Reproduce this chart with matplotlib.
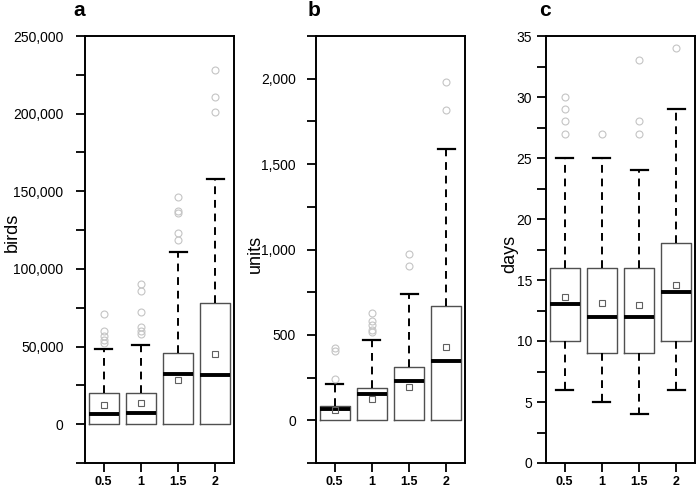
import matplotlib
matplotlib.use("Agg")
import matplotlib.pyplot as plt
from matplotlib.ticker import MultipleLocator, StrMethodFormatter

plt.rcParams["font.family"] = ["Liberation Sans Narrow", "Liberation Sans", "DejaVu Sans"]

# ── Data ────────────────────────────────────────────────────────────
groups = ["0.5", "1", "1.5", "2"]

birds_q1 = [0, 0, 0, 0]
birds_med = [6400, 7500, 32600, 31600]
birds_q3 = [20300, 20300, 45900, 78000]
birds_lo = [0, 0, 0, 0]
birds_hi = [48700, 50900, 111000, 157800]
birds_mean = [12200, 13500, 28300, 45300]
birds_out = [[71000, 60000, 57000, 54000, 52000],
             [90000, 85600, 72300, 62700, 59900, 58400],
             [146400, 137400, 136300, 123200, 118500],
             [228000, 211000, 201000]]

units_q1 = [0, 0, 0, 0]
units_med = [64, 152, 233, 346]
units_q3 = [84, 191, 311, 667]
units_lo = [0, 0, 0, 0]
units_hi = [210, 469, 741, 1588]
units_mean = [58, 126, 195, 430]
units_out = [[424, 405, 239],
             [628, 580, 560, 531, 516],
             [973, 901],
             [1982, 1819]]

days_q1 = [10, 9, 9, 10]
days_med = [13, 12, 12, 14]
days_q3 = [16, 16, 16, 18]
days_lo = [6, 5, 4, 6]
days_hi = [25, 25, 24, 29]
days_mean = [13.6, 13.1, 12.95, 14.6]
days_out = [[30, 29, 28, 27], [27], [33, 28, 27], [34]]


def make_stats(q1, med, q3, lo, hi, mean, out):
    return [dict(q1=a, med=b, q3=c, whislo=d, whishi=e, mean=f, fliers=g)
            for a, b, c, d, e, f, g in zip(q1, med, q3, lo, hi, mean, out)]


panels = [
    dict(stats=make_stats(birds_q1, birds_med, birds_q3, birds_lo, birds_hi, birds_mean, birds_out),
         ylabel="birds", ylim=(-25000, 250000), major=50000, minor=25000,
         left=85, label_xy=(-0.49, 0.54), pad=9, letter="a", letter_x=79),
    dict(stats=make_stats(units_q1, units_med, units_q3, units_lo, units_hi, units_mean, units_out),
         ylabel="units", ylim=(-250, 2250), major=500, minor=250,
         left=316, label_xy=(-0.41, 0.49), pad=8, letter="b", letter_x=314),
    dict(stats=make_stats(days_q1, days_med, days_q3, days_lo, days_hi, days_mean, days_out),
         ylabel="days", ylim=(0, 35), major=5, minor=2.5,
         left=546, label_xy=(-0.245, 0.49), pad=3.5, letter="c", letter_x=545),
]

W, H = 697, 487
fig = plt.figure(figsize=(W / 100, H / 100), dpi=100)

for p in panels:
    ax = fig.add_axes([p["left"] / W, 24 / H, 149 / W, 427 / H])
    art = ax.bxp(p["stats"], positions=[1, 2, 3, 4], widths=0.8, capwidths=0.45,
                 showmeans=True, patch_artist=False,
                 boxprops=dict(color="#505050", linewidth=1.0),
                 medianprops=dict(color="black", linewidth=2.8, solid_capstyle="butt"),
                 whiskerprops=dict(color="black", linewidth=1.4, linestyle=(0, (4, 3))),
                 capprops=dict(color="black", linewidth=1.6),
                 meanprops=dict(marker="s", markerfacecolor="none", markeredgecolor="#606060",
                                markersize=4.5, markeredgewidth=0.8),
                 flierprops=dict(marker="o", markerfacecolor="none", markeredgecolor="#c4c4c4",
                                 markersize=5, markeredgewidth=0.8))
    # no lower staple where the whisker has zero length (sits on the box edge)
    for i, st in enumerate(p["stats"]):
        if st["whislo"] == st["q1"]:
            art["caps"][2 * i].set_visible(False)

    ax.set_xlim(0.5, 4.5)
    ax.set_ylim(*p["ylim"])
    ax.yaxis.set_major_locator(MultipleLocator(p["major"]))
    ax.yaxis.set_minor_locator(MultipleLocator(p["minor"]))
    ax.yaxis.set_major_formatter(StrMethodFormatter("{x:,.0f}"))
    ax.tick_params(axis="y", which="both", length=6.5, width=1.3, labelsize=10, pad=p["pad"])
    ax.set_xticks([1, 2, 3, 4])
    ax.set_xticklabels(groups, fontweight="bold", fontsize=9)
    ax.tick_params(axis="x", length=6.5, width=1.3, pad=3)
    for s in ax.spines.values():
        s.set_linewidth(1.4)

    ax.set_ylabel(p["ylabel"], fontsize=13, va="center")
    ax.yaxis.set_label_coords(*p["label_xy"])

    fig.text(p["letter_x"] / W, 1 - 11 / H, p["letter"], fontsize=15, fontweight="bold",
             family=["Liberation Sans", "DejaVu Sans"], ha="center", va="center")

fig.savefig("out.png", dpi=100)
